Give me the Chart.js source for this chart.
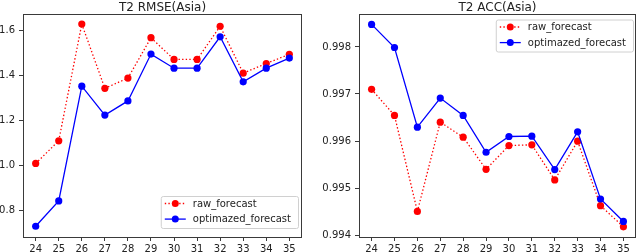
<!DOCTYPE html>
<html>
<head>
<meta charset="utf-8">
<script src="https://cdn.jsdelivr.net/npm/chart.js@4"></script>
<style>
  html, body { margin: 0; padding: 0; background: #fff; }
  body { width: 640px; height: 252px; position: relative; overflow: hidden; }
  canvas { position: absolute; top: 0; }
  #c1 { left: 0; }
  #c2 { left: 320px; }
</style>
</head>
<body>
<canvas id="c1" width="320" height="252"></canvas>
<canvas id="c2" width="320" height="252"></canvas>
<script>
// ---- data ----
const categories = [24, 25, 26, 27, 28, 29, 30, 31, 32, 33, 34, 35];
const seriesNames = ['raw_forecast', 'optimazed_forecast'];
const rmseRaw = [1.008, 1.109, 1.630, 1.343, 1.389, 1.569, 1.472, 1.472, 1.620, 1.411, 1.454, 1.495];
const rmseOpt = [0.728, 0.841, 1.353, 1.224, 1.287, 1.496, 1.433, 1.433, 1.573, 1.372, 1.433, 1.478];
const accRaw = [0.997098, 0.996544, 0.994503, 0.996401, 0.996081, 0.995399, 0.995904, 0.995919, 0.995173, 0.995996, 0.994625, 0.994177];
const accOpt = [0.998478, 0.997987, 0.996294, 0.996913, 0.996544, 0.995761, 0.996096, 0.996102, 0.995392, 0.996196, 0.994768, 0.994290];
const rmseTicks = [0.8, 1.0, 1.2, 1.4, 1.6];
const accTicks = [0.994, 0.995, 0.996, 0.997, 0.998];
const titles = ['T2 RMSE(Asia)', 'T2 ACC(Asia)'];

const FONT = "'DejaVu Sans', sans-serif";
const RED = '#ff0000', BLUE = '#0000ff', SPINE = '#3a3a3a', TEXT = '#222222';

const mplDecor = {
  id: 'mplDecor',
  afterDraw(chart, args, opts) {
    const ctx = chart.ctx, a = chart.chartArea;
    ctx.save();
    // spines
    ctx.strokeStyle = SPINE; ctx.lineWidth = 1;
    ctx.strokeRect(Math.round(a.left) + 0.5, Math.round(a.top) + 0.5,
                   Math.round(a.right - a.left) - 1, Math.round(a.bottom - a.top) - 1);
    // title
    ctx.fillStyle = TEXT;
    ctx.font = '12px ' + FONT;
    ctx.textAlign = 'center'; ctx.textBaseline = 'alphabetic';
    ctx.fillText(opts.title, (a.left + a.right) / 2, 10.5);
    // legend
    ctx.font = '10px ' + FONT;
    const ds = chart.data.datasets;
    const textW = Math.max(...ds.map(d => ctx.measureText(d.label).width));
    const boxW = 6 + 21 + 7 + textW + 5;
    const boxH = 32;
    const bx = a.right - opts.legendRight - boxW;
    const by = opts.legendCorner === 'lower' ? a.bottom - opts.legendBottom - boxH : a.top + opts.legendTop;
    ctx.beginPath();
    if (ctx.roundRect) ctx.roundRect(bx + 0.5, by + 0.5, boxW, boxH, 2); else ctx.rect(bx + 0.5, by + 0.5, boxW, boxH);
    ctx.fillStyle = 'rgba(255,255,255,0.85)'; ctx.fill();
    ctx.strokeStyle = '#d0d0d0'; ctx.lineWidth = 1; ctx.stroke();
    ds.forEach((d, i) => {
      const y = by + 7.5 + i * 15.6;
      const x0 = bx + 4, x1 = bx + 25;
      ctx.beginPath();
      ctx.setLineDash(d.borderDash || []);
      ctx.strokeStyle = d.borderColor; ctx.lineWidth = d.borderWidth;
      ctx.moveTo(x0, y); ctx.lineTo(x1, y); ctx.stroke();
      ctx.setLineDash([]);
      ctx.beginPath(); ctx.fillStyle = d.backgroundColor;
      ctx.arc((x0 + x1) / 2, y, 3.5, 0, Math.PI * 2); ctx.fill();
      ctx.fillStyle = TEXT; ctx.textAlign = 'left'; ctx.textBaseline = 'middle';
      ctx.fillText(d.label, bx + 32, y + 0.5);
    });
    ctx.restore();
  }
};

function makeChart(id, raw, opt, yTicks, yMin, yMax, yWidth, padRight, fmt, deco) {
  const pts = arr => categories.map((c, i) => ({ x: c, y: arr[i] }));
  return new Chart(document.getElementById(id), {
    type: 'line',
    data: {
      datasets: [
        { label: seriesNames[0], data: pts(raw), borderColor: RED, backgroundColor: RED,
          borderWidth: 1.3, borderDash: [1.4, 2.2], pointRadius: 3.6, pointBorderWidth: 0,
          pointBackgroundColor: RED, tension: 0, order: 2 },
        { label: seriesNames[1], data: pts(opt), borderColor: BLUE, backgroundColor: BLUE,
          borderWidth: 1.3, pointRadius: 3.6, pointBorderWidth: 0,
          pointBackgroundColor: BLUE, tension: 0, order: 1 }
      ]
    },
    options: {
      responsive: false, animation: false, devicePixelRatio: 1,
      layout: { padding: { left: 0, right: padRight, top: 13.5, bottom: 0 } },
      plugins: { legend: { display: false }, title: { display: false }, tooltip: { enabled: false }, mplDecor: deco },
      scales: {
        x: {
          type: 'linear', min: 23.45, max: 35.55,
          afterBuildTicks: s => { s.ticks = categories.map(v => ({ value: v })); },
          afterFit: s => { s.height = 15; },
          ticks: { color: TEXT, font: { family: FONT, size: 10 }, padding: 2, maxRotation: 0, autoSkip: false,
                   callback: v => String(v) },
          grid: { drawOnChartArea: false, drawTicks: true, tickLength: 4, color: SPINE },
          border: { display: false }
        },
        y: {
          type: 'linear', min: yMin, max: yMax,
          afterBuildTicks: s => { s.ticks = yTicks.map(v => ({ value: v })); },
          afterFit: s => { s.width = yWidth; },
          ticks: { color: TEXT, font: { family: FONT, size: 10 }, padding: 4, autoSkip: false,
                   callback: v => fmt(v) },
          grid: { drawOnChartArea: false, drawTicks: true, tickLength: 4, color: SPINE },
          border: { display: false }
        }
      }
    },
    plugins: [mplDecor]
  });
}

makeChart('c1', rmseRaw, rmseOpt, rmseTicks, 0.68, 1.677, 23, 18, v => v.toFixed(1),
  { title: titles[0], legendCorner: 'lower', legendRight: 4, legendBottom: 9 });
makeChart('c2', accRaw, accOpt, accTicks, 0.99396, 0.99871, 39, 3, v => v.toFixed(3),
  { title: titles[1], legendCorner: 'upper', legendRight: 3, legendTop: 6 });
</script>
</body>
</html>
